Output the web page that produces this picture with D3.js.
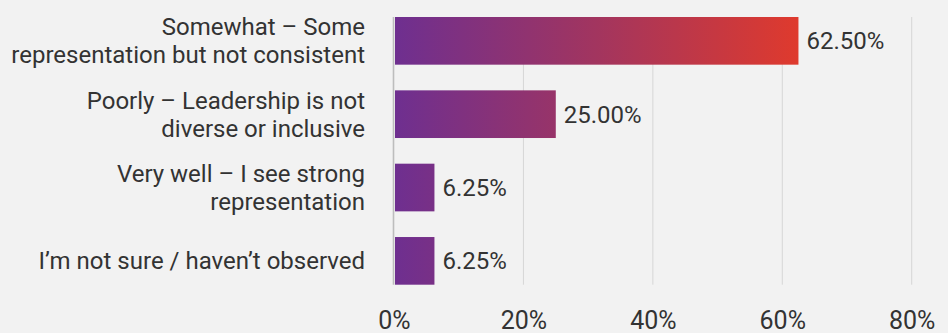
<!DOCTYPE html>
<html>
<head>
<meta charset="utf-8">
<script src="https://cdn.jsdelivr.net/npm/d3@7"></script>
<style>
  html, body { margin: 0; padding: 0; background: #f2f2f2; }
  svg { display: block; font-family: Roboto, "Noto Sans", sans-serif; }
</style>
</head>
<body>
<svg id="chart" width="948" height="333"></svg>
<script>
// Survey responses: how well leadership reflects diversity
const categories = [
  ["Somewhat \u2013 Some", "representation but not consistent"],
  ["Poorly \u2013 Leadership is not", "diverse or inclusive"],
  ["Very well \u2013 I see strong", "representation"],
  ["I\u2019m not sure / haven\u2019t observed"]
];
const values = [62.5, 25.0, 6.25, 6.25];
const valueLabels = ["62.50%", "25.00%", "6.25%", "6.25%"];
const tickValues = [0, 20, 40, 60, 80];
const tickLabels = ["0%", "20%", "40%", "60%", "80%"];

const svg = d3.select("#chart");
const textColor = "#333333";

const x = d3.scaleLinear().domain([0, 80]).range([394, 911.7]);
const y = d3.scaleBand()
  .domain(d3.range(categories.length))
  .range([17, 284.7])
  .paddingInner(0.35)
  .paddingOuter(0);

// Gradient spans from 0 to the largest value, shared by every bar
const defs = svg.append("defs");
const grad = defs.append("linearGradient")
  .attr("id", "barGrad")
  .attr("gradientUnits", "userSpaceOnUse")
  .attr("x1", x(0)).attr("x2", x(d3.max(values)))
  .attr("y1", 0).attr("y2", 0);
grad.append("stop").attr("offset", "0%").attr("stop-color", "#6e2f90");
grad.append("stop").attr("offset", "50%").attr("stop-color", "#a2355f");
grad.append("stop").attr("offset", "100%").attr("stop-color", "#df3a2d");

// Vertical gridlines
svg.append("g")
  .selectAll("line")
  .data(tickValues.slice(1))
  .join("line")
  .attr("x1", d => x(d)).attr("x2", d => x(d))
  .attr("y1", y.range()[0]).attr("y2", y.range()[1])
  .attr("stroke", "#d6d6d6")
  .attr("stroke-width", 1);

// Bars
svg.append("g")
  .selectAll("rect")
  .data(values)
  .join("rect")
  .attr("x", x(0) + 1)
  .attr("y", (d, i) => y(i))
  .attr("width", d => x(d) - x(0) - 1)
  .attr("height", y.bandwidth())
  .attr("fill", "url(#barGrad)");

// Baseline axis
svg.append("line")
  .attr("x1", x(0) - 0.5).attr("x2", x(0) - 0.5)
  .attr("y1", y.range()[0]).attr("y2", y.range()[1])
  .attr("stroke", "#bdbdbd")
  .attr("stroke-width", 1.6);

// Value labels
svg.append("g")
  .selectAll("text")
  .data(values)
  .join("text")
  .attr("x", d => x(d) + 8)
  .attr("y", (d, i) => y(i) + y.bandwidth() / 2 + 8.5)
  .attr("font-size", 24)
  .attr("fill", textColor)
  .text((d, i) => valueLabels[i]);

// Category labels (right-aligned, wrapped)
const lineH = 28.3;
const catG = svg.append("g");
categories.forEach((lines, i) => {
  const cy = y(i) + y.bandwidth() / 2;
  const first = cy + 8.5 - (lines.length - 1) * lineH / 2;
  const t = catG.append("text")
    .attr("text-anchor", "end")
    .attr("font-size", 24)
    .attr("fill", textColor);
  lines.forEach((ln, j) => {
    t.append("tspan")
      .attr("x", 365)
      .attr("y", first + j * lineH)
      .text(ln);
  });
});

// Bottom tick labels
const xAxis = d3.axisBottom(x)
  .tickValues(tickValues)
  .tickFormat((d, i) => tickLabels[i])
  .tickSize(0)
  .tickPadding(0);
const axG = svg.append("g")
  .attr("transform", "translate(0,310)")
  .call(xAxis);
axG.select(".domain").remove();
axG.selectAll("text")
  .attr("font-size", 25)
  .attr("font-family", "Roboto, 'Noto Sans', sans-serif")
  .attr("fill", textColor)
  .attr("dy", null)
  .attr("y", 18.8);
</script>
</body>
</html>
